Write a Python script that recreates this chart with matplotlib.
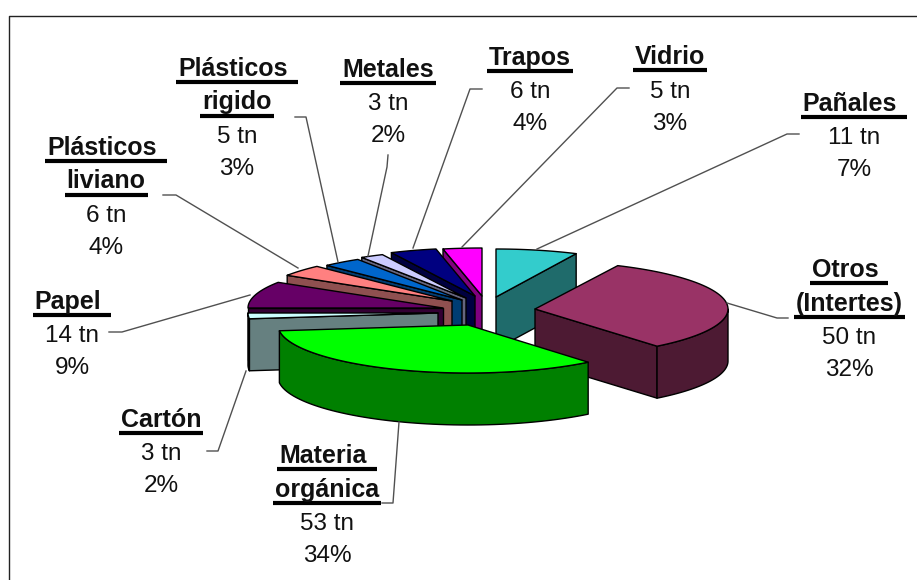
import numpy as np
import matplotlib
matplotlib.use("Agg")
import matplotlib.pyplot as plt
from matplotlib.patches import Polygon

# clockwise from 12 o'clock, a trailing space is underlined in the original
names = [["Pañales "], ["Otros ", "(Intertes)"], ["Materia ", "orgánica"], ["Cartón"], ["Papel "],
         ["Plásticos ", "liviano"], ["Plásticos ", "rigido"], ["Metales"], ["Trapos"], ["Vidrio"]]
tons = [11, 50, 53, 3, 14, 6, 5, 3, 6, 5]
percents = [7, 32, 34, 2, 9, 4, 3, 2, 4, 3]

top_colors = ["#33CCCC", "#993366", "#00FF00", "#CCFFFF", "#660066",
              "#FF8080", "#0066CC", "#CCCCFF", "#000080", "#FF00FF"]
side_colors = ["#1F6B6B", "#4D1A33", "#008000", "#668080", "#330033",
               "#8F5050", "#003D73", "#666680", "#000040", "#800080"]

# how far each slice is pulled out of the pie, in pixels from the centre
explode_x = [12, 51, -16, -46, -41, -32, -22, -18, -9, -2]
explode_y = [-13, -1, 15, 3, -2, -9, -10, -12, -14, -14]
radius_x = [187, 193, 190, 190, 195, 195, 195, 195, 195, 195]

# back to front
draw_order = [9, 8, 7, 6, 5, 4, 3, 0, 1, 2]

label_x = [854, 849, 327, 161, 72, 106, 237, 388, 530, 670]
label_y = [111, 277, 463, 427, 309, 155, 76, 77, 65, 64]

leaders = [
    [(537, 249), (787, 134), (799, 134)],
    [(727, 303), (777, 318), (788, 318)],
    [(399, 422), (393, 503), (382, 503)],
    [(246, 371), (218, 451), (207, 451)],
    [(250, 295), (122, 332), (109, 332)],
    [(298, 268), (176, 195), (163, 195)],
    [(338, 262), (306, 117), (295, 117)],
    [(368, 256), (387, 167), (388, 155)],
    [(413, 248), (470, 89), (482, 89)],
    [(462, 247), (617, 88), (629, 88)],
]

CENTER = (484, 310)
RADIUS_Y = 48
DEPTH = 52
TITLE_STEP = 33.5
VALUE_STEP = 32


def rim(cx, cy, rx, a, b):
    t = np.radians(np.linspace(a, b, 60))
    return np.column_stack([cx + rx * np.sin(t), cy - RADIUS_Y * np.cos(t)])


def draw_slice(ax, i, start, end):
    cx = CENTER[0] + explode_x[i]
    cy = CENTER[1] + explode_y[i]
    rx = radius_x[i]
    edge = dict(edgecolor="black", linewidth=1.0, joinstyle="round")
    apex = np.array([cx, cy])
    down = np.array([0, DEPTH])

    # cut faces, only those turned to the viewer
    for ang, visible in ((start, np.sin(np.radians(start)) < 0), (end, np.sin(np.radians(end)) > 0)):
        if visible:
            p = rim(cx, cy, rx, ang, ang)[0]
            ax.add_patch(Polygon([apex, p, p + down, apex + down], facecolor=side_colors[i], **edge))

    # outer wall, the front half only
    a, b = max(start, 90), min(end, 270)
    if a < b:
        pts = rim(cx, cy, rx, a, b)
        ax.add_patch(Polygon(np.vstack([pts, pts[::-1] + down]), facecolor=side_colors[i], **edge))

    top = np.vstack([apex, rim(cx, cy, rx, start, end)])
    ax.add_patch(Polygon(top, facecolor=top_colors[i], **edge))


def plot_pie():
    plt.rcParams["font.family"] = ["Liberation Sans", "DejaVu Sans"]
    fig = plt.figure(figsize=(9.17, 5.8), dpi=100)
    ax = fig.add_axes([0, 0, 1, 1])
    ax.set_xlim(0, 917)
    ax.set_ylim(580, 0)
    ax.axis("off")

    # frame runs off the right and bottom of the picture
    ax.plot([9, 9, 917], [580, 16, 16], color="#222222", linewidth=1.0)

    for pts in leaders:
        ax.plot(*zip(*pts), color="#505050", linewidth=1.0)

    edges = np.cumsum([0] + tons) / sum(tons) * 360
    for i in draw_order:
        draw_slice(ax, i, edges[i], edges[i + 1])

    renderer = fig.canvas.get_renderer()
    for i, title in enumerate(names):
        y = label_y[i]
        for line in title:
            extra = 8 if line.endswith(" ") else 0
            t = ax.text(label_x[i] - extra / 2, y, line.strip(), ha="center", va="baseline",
                        fontsize=18, fontweight="bold", color="#111111")
            box = t.get_window_extent(renderer)
            ax.plot([box.x0 - 2, box.x1 + 2 + extra], [y + 6, y + 6], color="black", linewidth=3.0,
                    solid_capstyle="butt")
            y += TITLE_STEP
        ax.text(label_x[i], y, f"{tons[i]} tn", ha="center", va="baseline", fontsize=17.5, color="#111111")
        ax.text(label_x[i], y + VALUE_STEP, f"{percents[i]}%", ha="center", va="baseline", fontsize=17.5,
                color="#111111")

    fig.savefig("out.png", dpi=100)


if __name__ == "__main__":
    plot_pie()
